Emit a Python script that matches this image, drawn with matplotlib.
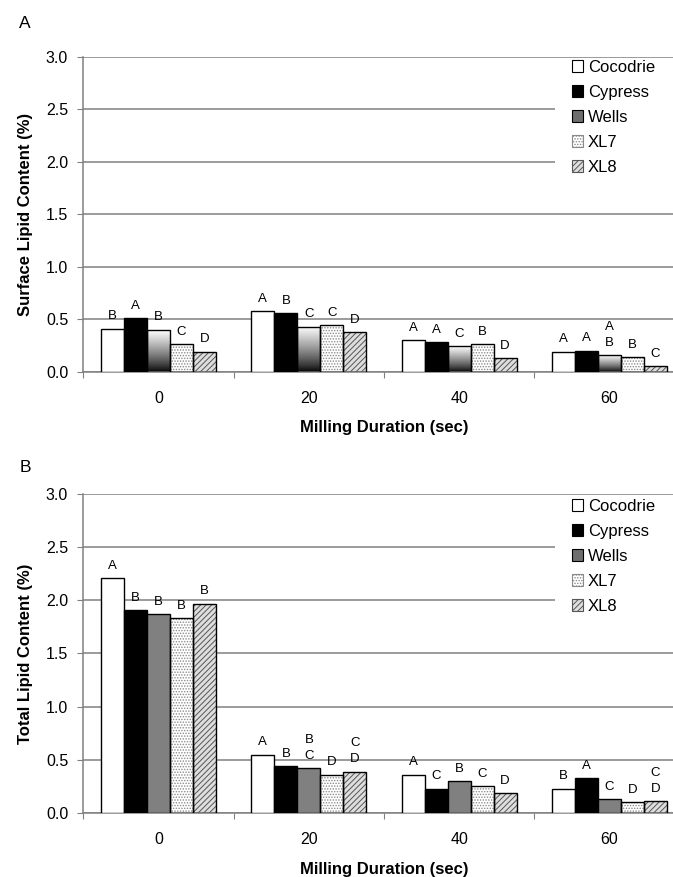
import numpy as np
import matplotlib.pyplot as plt
from matplotlib.patches import Patch, Rectangle

plt.rcParams['font.family'] = ['Liberation Sans', 'DejaVu Sans']
plt.rcParams['hatch.linewidth'] = 0.7

# data
cultivars = ["Cocodrie", "Cypress", "Wells", "XL7", "XL8"]
durations = ["0", "20", "40", "60"]

# A: surface lipid content (%)
surf_cocodrie = [0.41, 0.58, 0.30, 0.19]
surf_cypress = [0.51, 0.56, 0.28, 0.20]
surf_wells = [0.40, 0.43, 0.24, 0.16]
surf_xl7 = [0.26, 0.44, 0.26, 0.14]
surf_xl8 = [0.19, 0.38, 0.13, 0.05]

surf_let_cocodrie = ["B", "A", "A", "A"]
surf_let_cypress = ["A", "B", "A", "A"]
surf_let_wells = ["B", "C", "C", "A\nB"]
surf_let_xl7 = ["C", "C", "B", "B"]
surf_let_xl8 = ["D", "D", "D", "C"]

# B: total lipid content (%)
tot_cocodrie = [2.21, 0.55, 0.36, 0.23]
tot_cypress = [1.91, 0.44, 0.23, 0.33]
tot_wells = [1.87, 0.42, 0.30, 0.13]
tot_xl7 = [1.83, 0.36, 0.25, 0.10]
tot_xl8 = [1.97, 0.39, 0.19, 0.11]

tot_let_cocodrie = ["A", "A", "A", "B"]
tot_let_cypress = ["B", "B", "C", "A"]
tot_let_wells = ["B", "B\nC", "B", "C"]
tot_let_xl7 = ["B", "D", "C", "D"]
tot_let_xl8 = ["B", "C\nD", "D", "C\nD"]

# fill styles: (facecolor, hatch, hatch colour)
styles = {
    "Cocodrie": ("white", None, None),
    "Cypress": ("black", None, None),
    "Wells": ("#808080", None, None),
    "XL7": ("white", "......", "#8a8a8a"),
    "XL8": ("#dedede", "//////", "#555555"),
}

GRID = "#808080"
width = 0.153


def draw_panel(ax, series, letters, ylabel, gradient_wells, leg_top):
    x = np.arange(len(durations))
    for i, name in enumerate(cultivars):
        pos = x + (i - 2) * width
        face, hatch, hcol = styles[name]
        if hatch:
            ax.bar(pos, series[i], width, color=face, hatch=hatch,
                   edgecolor=hcol, linewidth=0, zorder=2)
            ax.bar(pos, series[i], width, facecolor="none",
                   edgecolor="black", linewidth=1, zorder=3)
        elif name == "Wells" and gradient_wells:
            bars = ax.bar(pos, series[i], width, facecolor="none",
                          edgecolor="black", linewidth=1, zorder=3)
            grad = np.linspace(0, 1, 256).reshape(-1, 1) ** 0.8
            for b in bars:
                x0, y0 = b.get_x(), b.get_y()
                im = ax.imshow(grad, extent=[x0, x0 + b.get_width(), y0 + b.get_height(), y0],
                               cmap="gray", vmin=0, vmax=1, aspect="auto",
                               origin="upper", zorder=2)
                im.set_clip_path(b)
        else:
            ax.bar(pos, series[i], width, color=face, edgecolor="black",
                   linewidth=1, zorder=3)
        for p, v, lab in zip(pos, series[i], letters[i]):
            ax.annotate(lab, (p, v), xytext=(0, 4.5), textcoords="offset points",
                        ha="center", va="bottom", fontsize=9.5, linespacing=1.45)

    ax.set_xlim(-0.5, 3.5)
    ax.set_ylim(0, 3.0)
    ax.set_yticks(np.arange(0, 3.01, 0.5))
    ax.set_yticklabels([f"{t:.1f}" for t in np.arange(0, 3.01, 0.5)])
    ax.set_xticks([-0.5, 0.5, 1.5, 2.5, 3.5])
    ax.set_xticklabels([])
    ax.set_xticks(x, minor=True)
    ax.set_xticklabels(durations, minor=True)
    ax.tick_params(axis="x", which="major", length=4, color=GRID, direction="out")
    ax.tick_params(axis="x", which="minor", length=0, pad=14, labelsize=11.5)
    ax.tick_params(axis="y", length=4, color=GRID, pad=7, labelsize=11.5)

    ax.set_axisbelow(True)
    ax.grid(axis="y", color=GRID, linewidth=1.1)
    for s in ["top", "right"]:
        ax.spines[s].set_visible(False)
    for s in ["left", "bottom"]:
        ax.spines[s].set_color(GRID)
        ax.spines[s].set_linewidth(1.1)

    ax.set_ylabel(ylabel, fontsize=12, fontweight="bold")
    ax.yaxis.set_label_coords(-0.084, 0.5)
    ax.set_xlabel("Milling Duration (sec)", fontsize=12, fontweight="bold")
    ax.xaxis.set_label_coords(0.5, -0.155)

    # white area behind legend that interrupts gridlines
    ax.add_patch(Rectangle((0.785, 0.58), 0.4, 0.405, transform=ax.transAxes,
                           facecolor="white", edgecolor="none", zorder=1))
    handles = []
    for name in cultivars:
        face, hatch, hcol = styles[name]
        if name == "Wells":
            face = "#6e6e6e"
        handles.append(Patch(facecolor=face, hatch=hatch,
                             edgecolor=hcol if hatch else "black", linewidth=0.8))
    ax.legend(handles, cultivars, loc="upper left", bbox_to_anchor=(0.813, leg_top),
              frameon=False, borderpad=0, borderaxespad=0, fontsize=12,
              handlelength=0.65, handleheight=0.65, handletextpad=0.3,
              labelspacing=0.6)


fig = plt.figure(figsize=(6.73, 8.77), dpi=100)
axA = fig.add_axes([0.124, 0.5762, 0.893, 0.3591])
axB = fig.add_axes([0.124, 0.0730, 0.893, 0.3637])

draw_panel(axA,
           [surf_cocodrie, surf_cypress, surf_wells, surf_xl7, surf_xl8],
           [surf_let_cocodrie, surf_let_cypress, surf_let_wells, surf_let_xl7, surf_let_xl8],
           "Surface Lipid Content (%)", True, 0.99)
draw_panel(axB,
           [tot_cocodrie, tot_cypress, tot_wells, tot_xl7, tot_xl8],
           [tot_let_cocodrie, tot_let_cypress, tot_let_wells, tot_let_xl7, tot_let_xl8],
           "Total Lipid Content (%)", False, 0.985)

fig.text(25 / 673, 1 - 23 / 877, "A", fontsize=12.5, ha="center", va="center")
fig.text(25 / 673, 1 - 468 / 877, "B", fontsize=12.5, ha="center", va="center")

fig.savefig("out.png", dpi=100)
